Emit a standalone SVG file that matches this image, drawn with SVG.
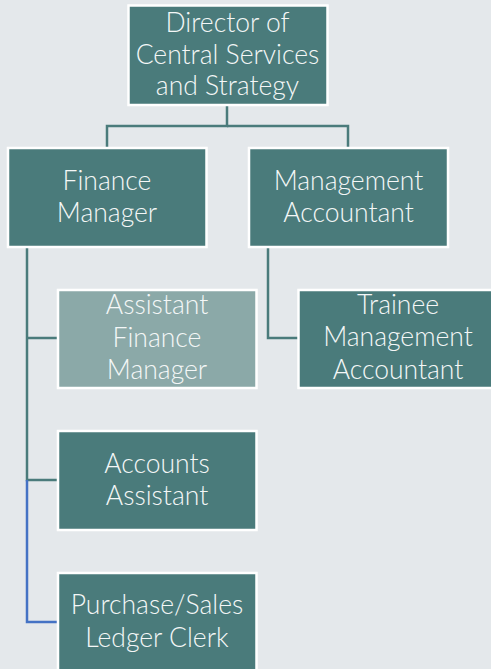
<svg xmlns="http://www.w3.org/2000/svg" width="491" height="669" viewBox="0 0 491 669">
  <style>
    .box { fill: #4a7b7b; stroke: #ffffff; stroke-width: 2.5; }
    .box.light { fill: #8ba9a8; }
    .lbl { font-family: Lato, "Open Sans", "Liberation Sans", sans-serif; font-weight: 300; font-size: 26.5px; fill: #f4f7f7; text-anchor: middle; }
    .wire { fill: none; stroke: #4a7b7b; stroke-width: 2.5; }
    .wire.blue { stroke: #4472c4; }
  </style>
  <rect width="491" height="669" fill="#e4e8eb"/>

  <g id="connectors">
    <path class="wire" d="M227 105 V126 H107 V147"/>
    <path class="wire" d="M227 126 H348 V147"/>
    <path class="wire" d="M27 248 V480 H57"/>
    <path class="wire" d="M27 338 H57"/>
    <path class="wire blue" d="M27 480 V622 H57"/>
    <path class="wire" d="M268 248 V338 H298"/>
  </g>

  <g id="director">
    <rect class="box" x="128.5" y="5.5" width="199" height="99.5"/>
    <text class="lbl"><tspan x="227.5" y="32">Director of</tspan><tspan x="227.5" y="63.5">Central Services</tspan><tspan x="227.5" y="95">and Strategy</tspan></text>
  </g>

  <g id="finance-manager">
    <rect class="box" x="8" y="148" width="198.5" height="99"/>
    <text class="lbl"><tspan x="107" y="190">Finance</tspan><tspan x="107" y="222">Manager</tspan></text>
  </g>

  <g id="management-accountant">
    <rect class="box" x="249" y="148" width="199" height="99"/>
    <text class="lbl"><tspan x="348.5" y="190">Management</tspan><tspan x="348.5" y="222">Accountant</tspan></text>
  </g>

  <g id="assistant-finance-manager">
    <rect class="box light" x="58" y="290" width="198.5" height="98"/>
    <text class="lbl"><tspan x="157" y="314">Assistant</tspan><tspan x="157" y="347">Finance</tspan><tspan x="157" y="379">Manager</tspan></text>
  </g>

  <g id="trainee-management-accountant">
    <rect class="box" x="298.5" y="290" width="200" height="98"/>
    <text class="lbl"><tspan x="398" y="314">Trainee</tspan><tspan x="398" y="346">Management</tspan><tspan x="398" y="379">Accountant</tspan></text>
  </g>

  <g id="accounts-assistant">
    <rect class="box" x="58" y="431" width="198.5" height="99"/>
    <text class="lbl"><tspan x="157" y="473">Accounts</tspan><tspan x="157" y="505">Assistant</tspan></text>
  </g>

  <g id="purchase-sales-ledger-clerk">
    <rect class="box" x="58" y="573" width="198.5" height="99"/>
    <text class="lbl"><tspan x="157" y="614">Purchase/Sales</tspan><tspan x="157" y="647">Ledger Clerk</tspan></text>
  </g>
</svg>
